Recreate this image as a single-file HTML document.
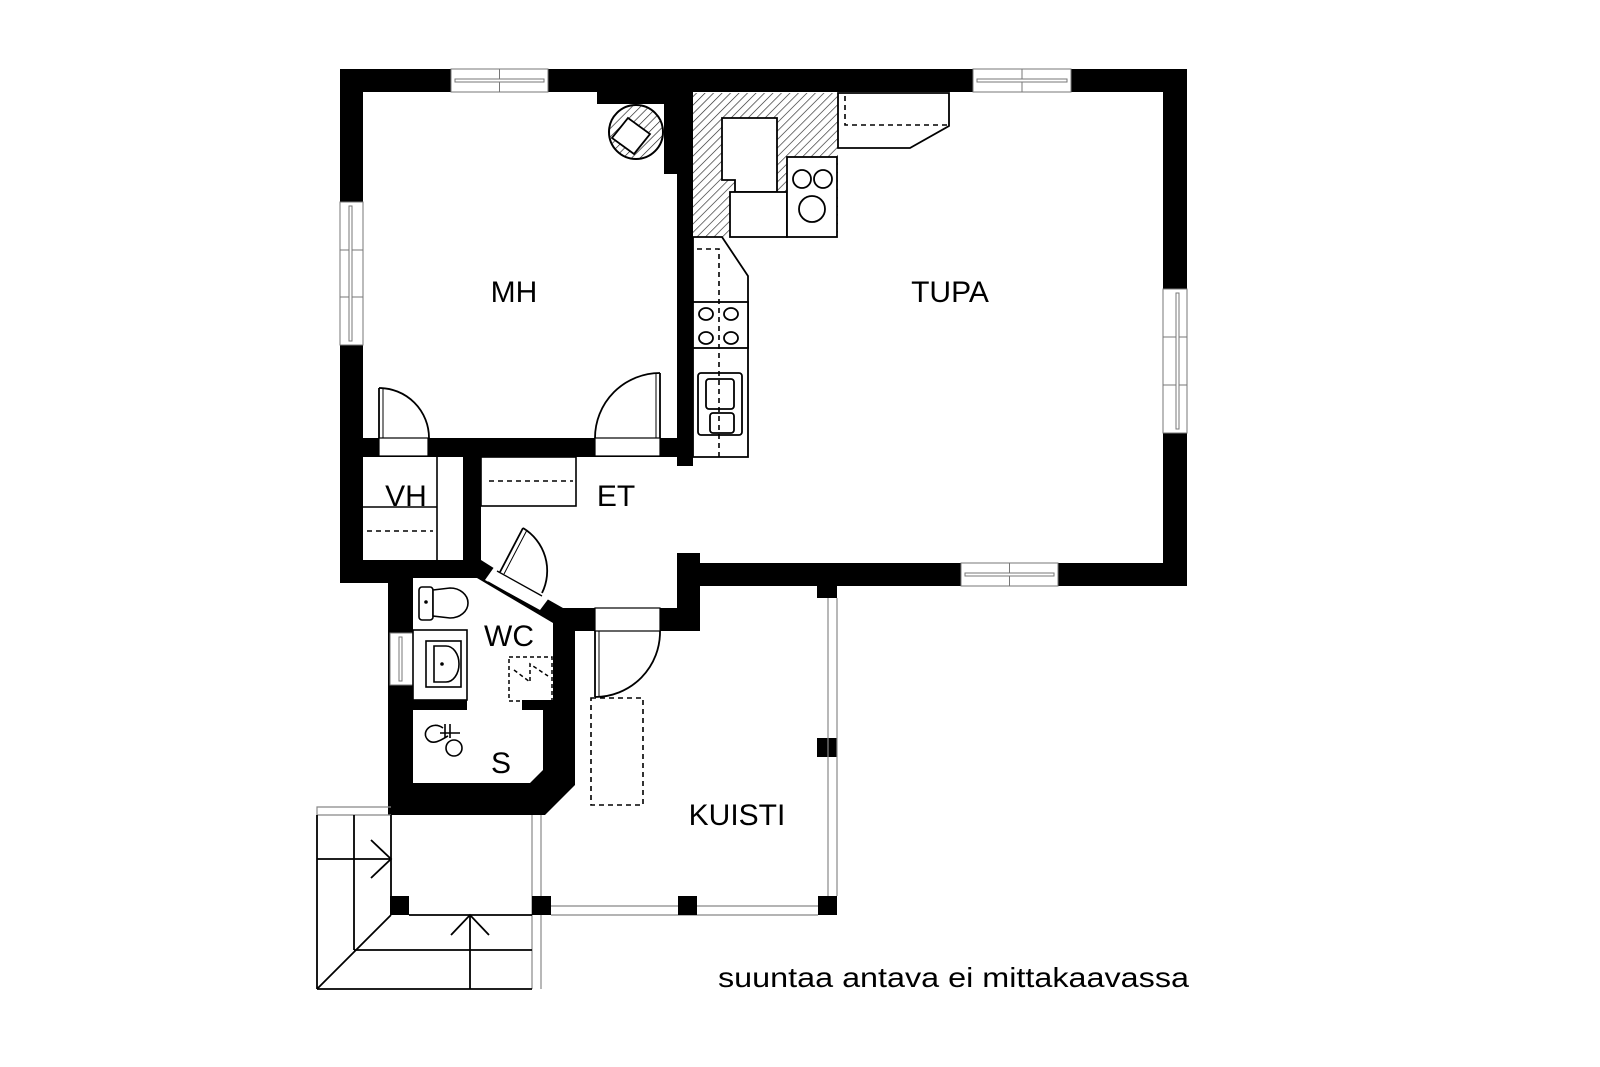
<!DOCTYPE html>
<html><head><meta charset="utf-8"><style>
html,body{margin:0;padding:0;background:#fff;}
svg{display:block;}
text{font-family:"Liberation Sans",sans-serif;fill:#000;}
</style></head><body>
<svg width="1600" height="1067" viewBox="0 0 1600 1067" xmlns="http://www.w3.org/2000/svg">
<defs>
<pattern id="h" width="6" height="6" patternUnits="userSpaceOnUse" patternTransform="rotate(45)">
<rect width="6" height="6" fill="#fff"/><line x1="0" y1="0" x2="0" y2="6" stroke="#222" stroke-width="1.3"/>
</pattern>
</defs>
<rect width="1600" height="1067" fill="#fff"/>

<g fill="#000">
<rect x="340" y="69" width="847" height="23"/>
<rect x="340" y="69" width="23" height="514"/>
<rect x="1163" y="69" width="24" height="517"/>
<rect x="677" y="563" width="510" height="23"/>
<rect x="597" y="92" width="80" height="12"/>
<rect x="664" y="92" width="13" height="82"/>
<rect x="677" y="92" width="16" height="374"/>
<rect x="340" y="438" width="337" height="19"/>
<rect x="463" y="457" width="18" height="105"/>
<rect x="340" y="560" width="141" height="23"/>
<rect x="677" y="553" width="23" height="78"/>
<rect x="660" y="608" width="40" height="23"/>
<rect x="817" y="586" width="20" height="12"/>
<rect x="817" y="738" width="20" height="19"/>
<polygon points="388,560 481,560 500,572 540,595 563,608 595,608 595,631 575,631 575,785 545,815 388,815"/>
</g>

<g fill="#fff" stroke="#777" stroke-width="1">
<rect x="451" y="69" width="97" height="23"/><line x1="499.5" y1="69" x2="499.5" y2="92"/><rect x="455" y="79" width="89" height="3"/>
<rect x="973" y="69" width="98" height="23"/><line x1="1022" y1="69" x2="1022" y2="92"/><rect x="977" y="79" width="90" height="3"/>
<rect x="340" y="202" width="23" height="143"/><line x1="340" y1="250" x2="363" y2="250"/><line x1="340" y1="297" x2="363" y2="297"/><rect x="349" y="206" width="3" height="135"/>
<rect x="1163" y="289" width="24" height="144"/><line x1="1163" y1="337" x2="1187" y2="337"/><line x1="1163" y1="385" x2="1187" y2="385"/><rect x="1176" y="293" width="3" height="136"/>
<rect x="961" y="563" width="97" height="23"/><line x1="1009.5" y1="563" x2="1009.5" y2="586"/><rect x="965" y="573" width="89" height="3"/>
<rect x="390" y="633" width="23" height="52"/><rect x="399" y="637" width="3" height="44"/>
</g>

<g fill="#fff" stroke="#000" stroke-width="1.2">
<rect x="379" y="438" width="49" height="18"/>
<rect x="595" y="438" width="65" height="18"/>
<rect x="595" y="608" width="65" height="23"/>
</g>

<g fill="#fff">
<polygon points="413,578 477,578 553,623 553,700 413,700"/>
<polygon points="413,710 543,710 543,770 530,783 413,783"/>
<rect x="467" y="698" width="55" height="14"/>
<polygon points="497,563 552,594 540,610 485,580"/>
</g>
<g fill="none" stroke="#000" stroke-width="1.3">
<line x1="497" y1="571" x2="542" y2="596"/>
<line x1="488" y1="582" x2="536" y2="609"/>
</g>

<g fill="none" stroke="#000" stroke-width="1.8">
<path d="M379,388 A50,50 0 0 1 429,438"/>
<line x1="379" y1="438" x2="379" y2="388"/><line x1="383" y1="438" x2="383" y2="388" stroke-width="1"/>
<path d="M660,373 A65,65 0 0 0 595,438"/>
<line x1="660" y1="438" x2="660" y2="373"/><line x1="656" y1="438" x2="656" y2="373" stroke-width="1"/>
<path d="M523,528 A50,50 0 0 1 542,593"/>
<line x1="500" y1="572" x2="523" y2="528"/><line x1="504" y1="574" x2="527" y2="530" stroke-width="1"/>
<path d="M660,631 A65,65 0 0 1 595,697"/>
<line x1="595" y1="631" x2="595" y2="697"/><line x1="599" y1="631" x2="599" y2="697" stroke-width="1"/>
</g>

<circle cx="636" cy="132" r="27" fill="url(#h)" stroke="#000" stroke-width="2"/>
<polygon points="628,118 650,134 634,154 612,138" fill="#fff" stroke="#000" stroke-width="1.8"/>

<rect x="693" y="93" width="145" height="144" fill="url(#h)"/>
<g fill="#fff" stroke="#000" stroke-width="1.8">
<polygon points="722,118 777,118 777,192 735,192 735,180 722,180"/>
<rect x="730" y="192" width="57" height="45"/>
<rect x="787" y="157" width="50" height="80"/>
<circle cx="802" cy="179" r="9"/><circle cx="823" cy="179" r="9"/><circle cx="812" cy="209" r="13"/>
<polygon points="838,93 949,93 949,126 910,148 838,148"/>
<polygon points="693,237 722,237 748,276 748,457 693,457"/>
<rect x="693" y="302" width="55" height="46"/>
<ellipse cx="706" cy="314" rx="7" ry="6"/><ellipse cx="731" cy="314" rx="7" ry="6"/>
<ellipse cx="706" cy="338" rx="7" ry="6"/><ellipse cx="731" cy="338" rx="7" ry="6"/>
<rect x="698" y="373" width="44" height="62" rx="3"/>
<rect x="706" y="379" width="28" height="30" rx="3"/>
<rect x="710" y="413" width="24" height="20" rx="3"/>
</g>
<g fill="none" stroke="#000" stroke-width="1.6" stroke-dasharray="5,4">
<polyline points="845,96 845,125 947,125"/>
<polyline points="697,249 719,249 719,457"/>
</g>

<g fill="none" stroke="#000" stroke-width="1.6">
<rect x="481" y="457" width="95" height="49"/>
<line x1="437" y1="457" x2="437" y2="560"/>
<line x1="363" y1="507" x2="437" y2="507"/>
<line x1="489" y1="481" x2="573" y2="481" stroke-dasharray="5,4"/>
<line x1="367" y1="531" x2="433" y2="531" stroke-dasharray="5,4"/>
</g>

<g fill="#fff" stroke="#000" stroke-width="1.6">
<rect x="419" y="587" width="14" height="33" rx="3"/>
<path d="M433,590 L450,588 A18,15 0 0 1 450,618 L433,616 Z"/>
<rect x="413" y="630" width="54" height="70"/>
<rect x="426" y="641" width="35" height="46"/>
<path d="M434,646 L446,646 A13,18 0 0 1 446,682 L434,682 Z"/>
</g>
<circle cx="442" cy="664" r="1.8"/><circle cx="426" cy="602" r="1.8"/>
<g fill="none" stroke="#000" stroke-width="1.5" stroke-dasharray="4,3">
<rect x="509" y="657" width="43" height="44"/>
<polyline points="514,670 530,682 530,664 548,676"/>
</g>
<g fill="none" stroke="#000" stroke-width="1.6">
<path d="M443,728 C432,720 420,732 428,740 C434,746 444,738 448,736"/>
<line x1="440" y1="733" x2="460" y2="733"/>
<line x1="445" y1="724" x2="445" y2="738"/><line x1="450" y1="724" x2="450" y2="738"/>
<circle cx="454" cy="748" r="8"/>
</g>

<g fill="none" stroke="#888" stroke-width="1.2">
<line x1="828" y1="598" x2="828" y2="896"/><line x1="837" y1="598" x2="837" y2="896"/>
<line x1="551" y1="906" x2="818" y2="906"/><line x1="551" y1="915" x2="818" y2="915"/>
<line x1="532" y1="815" x2="532" y2="989"/><line x1="541" y1="815" x2="541" y2="989"/>
<polyline points="391,807 317,807 317,815"/>
<line x1="317" y1="815" x2="391" y2="815"/>
</g>
<rect x="591" y="698" width="52" height="107" fill="none" stroke="#000" stroke-width="1.6" stroke-dasharray="5,4"/>
<g fill="#000">
<rect x="390" y="896" width="19" height="19"/>
<rect x="532" y="896" width="19" height="19"/>
<rect x="678" y="896" width="19" height="19"/>
<rect x="818" y="896" width="19" height="19"/>
</g>

<g fill="none" stroke="#000" stroke-width="1.8">
<line x1="317" y1="815" x2="317" y2="989"/>
<line x1="391" y1="815" x2="391" y2="915"/>
<line x1="409" y1="915" x2="532" y2="915"/>
<line x1="317" y1="859" x2="391" y2="859"/>
<line x1="354" y1="815" x2="354" y2="950"/>
<polyline points="371,840 391,859 371,878"/>
<line x1="391" y1="915" x2="317" y2="989"/>
<line x1="354" y1="950" x2="532" y2="950"/>
<line x1="317" y1="989" x2="532" y2="989"/>
<line x1="470" y1="915" x2="470" y2="989"/>
<polyline points="451,935 470,915 489,935"/>
</g>

<g font-size="30" text-anchor="middle">
<text x="514" y="302">MH</text>
<text x="950" y="302">TUPA</text>
<text x="406" y="506">VH</text>
<text x="616" y="506">ET</text>
<text x="509" y="646">WC</text>
<text x="501" y="773">S</text>
<text x="737" y="825">KUISTI</text>
</g>
<text x="718" y="987" font-size="28" textLength="471" lengthAdjust="spacingAndGlyphs">suuntaa antava ei mittakaavassa</text>
</svg>
</body></html>
